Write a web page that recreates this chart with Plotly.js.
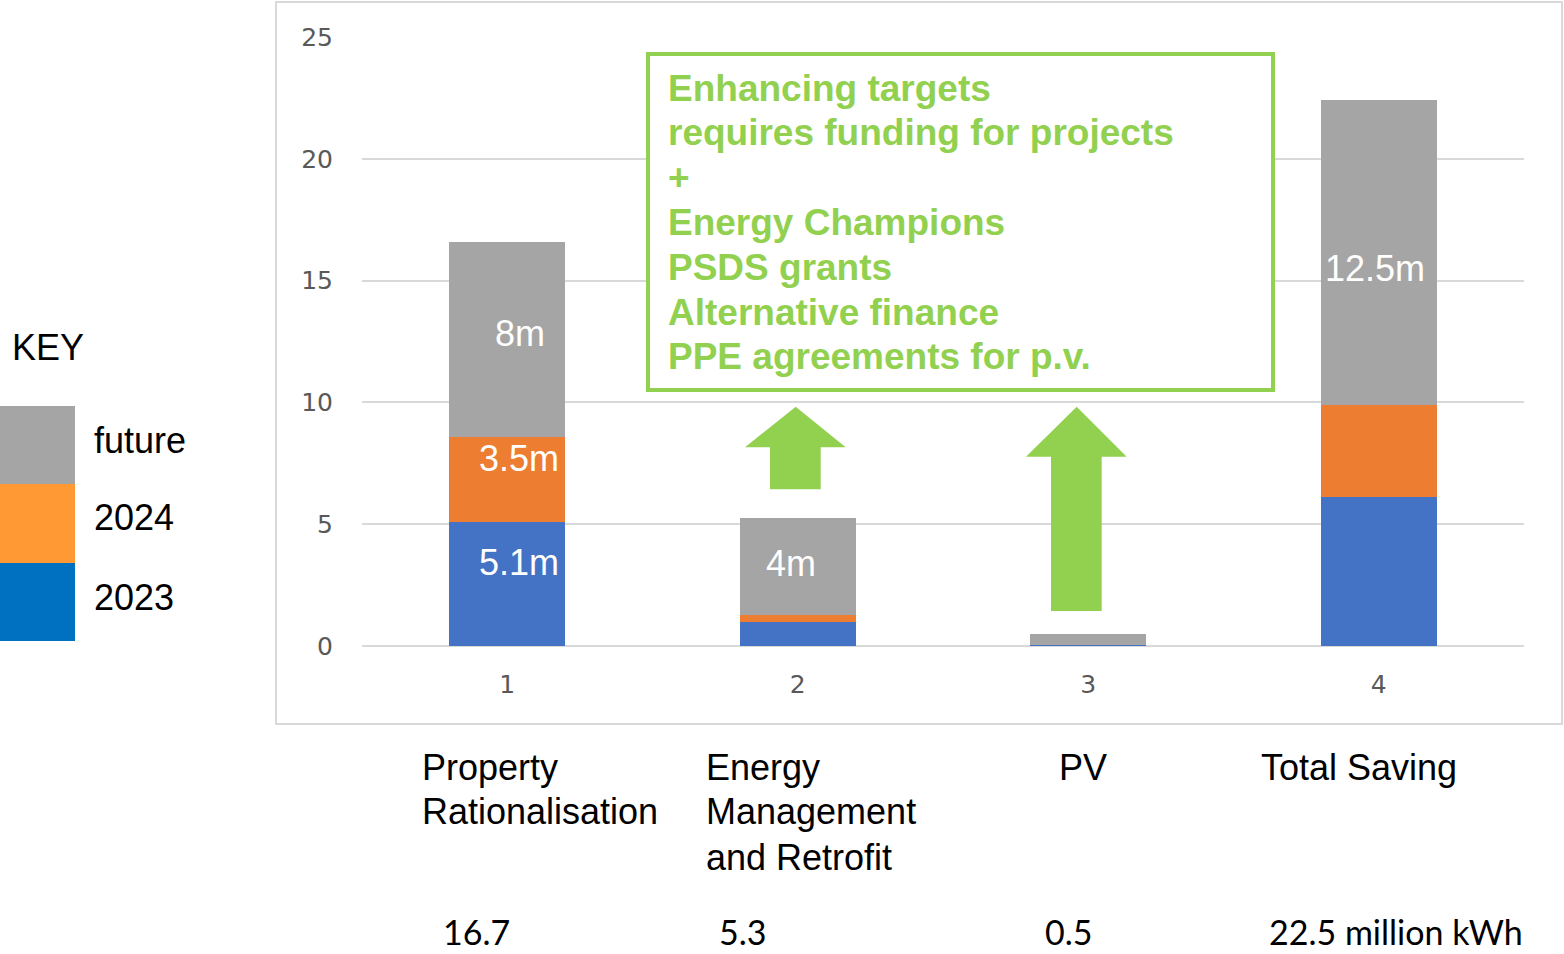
<!DOCTYPE html>
<html>
<head>
<meta charset="utf-8">
<script src="https://cdn.plot.ly/plotly-3.0.1.min.js"></script>
<style>html,body{margin:0;padding:0;background:#fff;}#chart{width:1564px;height:954px;}</style>
</head>
<body>
<div id="chart"></div>
<script>
// ---- data ----
const xCats = [1, 2, 3, 4];
const categoryNames = ["Property<br>Rationalisation", "Energy<br>Management<br>and Retrofit", "PV", "Total Saving"];
const totalLabels = ["16.7", "5.3", "0.5", "22.5 million kWh"];
const values2023 = [5.1, 1.0, 0.05, 6.1];
const values2024 = [3.5, 0.27, 0, 3.8];
const valuesFuture = [8.0, 4.0, 0.43, 12.5];
const labels2023 = ["5.1m", "", "", ""];
const labels2024 = ["3.5m", "", "", ""];
const labelsFuture = ["8m", "4m", "", "12.5m"];
const yTicks = [0, 5, 10, 15, 20, 25];
const keyNames = ["future", "2024", "2023"];
const boxLines = ["Enhancing targets", "requires funding for projects", "+", "Energy Champions", "PSDS grants", "Alternative finance", "PPE agreements for p.v."];

// ---- styles ----
const barColors = {y2023: "#4472c4", y2024: "#ed7d31", future: "#a5a5a5"};
const keyColors = ["#a5a5a5", "#ff9933", "#0070c0"];
const green = "#92d050";
const W = 1564, H = 954;
const L = 362, R = 1524, T = 37, B = 646;
const px = x => (x - L) / (R - L);
const py = y => (B - y) / (B - T);
const arial = "Liberation Sans, Arial, sans-serif";

function barTrace(name, vals, color) {
  return {type: "bar", name: name, x: xCats, y: vals, marker: {color: color, line: {width: 0}}, width: 0.4, hoverinfo: "skip"};
}
const data = [
  barTrace("2023", values2023, barColors.y2023),
  barTrace("2024", values2024, barColors.y2024),
  barTrace("future", valuesFuture, barColors.future)
];

const shapes = [];
const annotations = [];

// segment labels, placed at segment middles computed from data
const labelShift = {y2023: [[12, 21]], y2024: [[12, 21]], future: [[13, 6], [-7, 3], [0, 0], [-4, -16]]};
xCats.forEach((x, i) => {
  const segs = [
    {lab: labels2023[i], base: 0, v: values2023[i], sh: [12, 21]},
    {lab: labels2024[i], base: values2023[i], v: values2024[i], sh: [12, 21]},
    {lab: labelsFuture[i], base: values2023[i] + values2024[i], v: valuesFuture[i], sh: labelShift.future[i]}
  ];
  segs.forEach(s => {
    if (!s.lab) return;
    annotations.push({x: x, y: s.base + s.v / 2, xref: "x", yref: "y", text: s.lab, showarrow: false,
      xshift: s.sh[0], yshift: s.sh[1], font: {family: arial, size: 36, color: "#ffffff"}});
  });
});

// outer frame
shapes.push({type: "rect", xref: "paper", yref: "paper", x0: px(276), x1: px(1562), y0: py(724), y1: py(2),
  line: {color: "#d9d9d9", width: 2}, fillcolor: "rgba(0,0,0,0)", layer: "below"});

// green text box
shapes.push({type: "rect", xref: "paper", yref: "paper", x0: px(648), x1: px(1273), y0: py(390), y1: py(54),
  line: {color: green, width: 4}, fillcolor: "#ffffff", layer: "above"});
boxLines.forEach((t, i) => {
  annotations.push({xref: "paper", yref: "paper", x: px(666), y: py(88 + i * 44.8), xanchor: "left", yanchor: "middle",
    text: "<b>" + t + "</b>", showarrow: false, font: {family: arial, size: 37, color: green}});
});

// arrows (decoration)
function arrowPath(tipX, tipY, headL, headR, headBase, shaftL, shaftR, bottom) {
  const X = v => px(v), Y = v => py(v);
  return `M ${X(tipX)} ${Y(tipY)} L ${X(headR)} ${Y(headBase)} L ${X(shaftR)} ${Y(headBase)} L ${X(shaftR)} ${Y(bottom)} L ${X(shaftL)} ${Y(bottom)} L ${X(shaftL)} ${Y(headBase)} L ${X(headL)} ${Y(headBase)} Z`;
}
shapes.push({type: "path", xref: "paper", yref: "paper", path: arrowPath(795.7, 406.7, 745, 845.7, 447.3, 770, 820.7, 489.3),
  fillcolor: green, line: {width: 0}});
shapes.push({type: "path", xref: "paper", yref: "paper", path: arrowPath(1076.7, 406.7, 1026, 1126.7, 456.7, 1051, 1101.7, 611),
  fillcolor: green, line: {width: 0}});

// key
annotations.push({xref: "paper", yref: "paper", x: px(10), y: py(347), xanchor: "left", yanchor: "middle", text: "KEY",
  showarrow: false, font: {family: arial, size: 36, color: "#000"}});
const keyTops = [406, 484, 563], keyBottoms = [484, 563, 641], keyTextY = [440, 517, 597];
keyNames.forEach((n, i) => {
  shapes.push({type: "rect", xref: "paper", yref: "paper", x0: px(0), x1: px(75), y0: py(keyBottoms[i]), y1: py(keyTops[i]),
    fillcolor: keyColors[i], line: {width: 0}});
  annotations.push({xref: "paper", yref: "paper", x: px(92), y: py(keyTextY[i]), xanchor: "left", yanchor: "middle", text: n,
    showarrow: false, font: {family: arial, size: 36, color: "#000"}});
});

// category names (one annotation per line) and totals
const catLeft = [420, 704, 1057, 1259];
const totLeft = [442, 718, 1044, 1268];
categoryNames.forEach((n, i) => {
  n.split("<br>").forEach((line, j) => {
    annotations.push({xref: "paper", yref: "paper", x: px(catLeft[i]), y: py(767 + j * 45), xanchor: "left", yanchor: "middle",
      text: line, showarrow: false, font: {family: arial, size: 36, color: "#000"}});
  });
  annotations.push({xref: "paper", yref: "paper", x: px(totLeft[i]), y: py(953), xanchor: "left", yanchor: "bottom",
    text: totalLabels[i], showarrow: false, borderpad: 0, font: {family: "Lato, Carlito, sans-serif", size: 34, color: "#000"}});
});

const layout = {
  width: W, height: H,
  margin: {l: L, r: W - R, t: T, b: H - B, pad: 0},
  paper_bgcolor: "#ffffff", plot_bgcolor: "#ffffff",
  barmode: "stack", showlegend: false,
  font: {family: "DejaVu Sans, sans-serif", color: "#595959"},
  xaxis: {range: [0.5, 4.5], tickvals: xCats, ticktext: xCats.map(String), showgrid: false, zeroline: false,
    showline: false, ticks: "", ticklabelstandoff: 21, tickfont: {family: "DejaVu Sans, sans-serif", size: 25, color: "#595959"}, fixedrange: true},
  yaxis: {range: [0, 25], tickvals: yTicks, showgrid: true, gridcolor: "#d9d9d9", gridwidth: 2, zeroline: true,
    zerolinecolor: "#d9d9d9", zerolinewidth: 2, showline: false, ticks: "", ticklabelstandoff: 28,
    tickfont: {family: "DejaVu Sans, sans-serif", size: 25, color: "#595959"}, fixedrange: true},
  shapes: shapes, annotations: annotations
};

Plotly.newPlot("chart", data, layout, {displayModeBar: false, staticPlot: true});
</script>
</body>
</html>
